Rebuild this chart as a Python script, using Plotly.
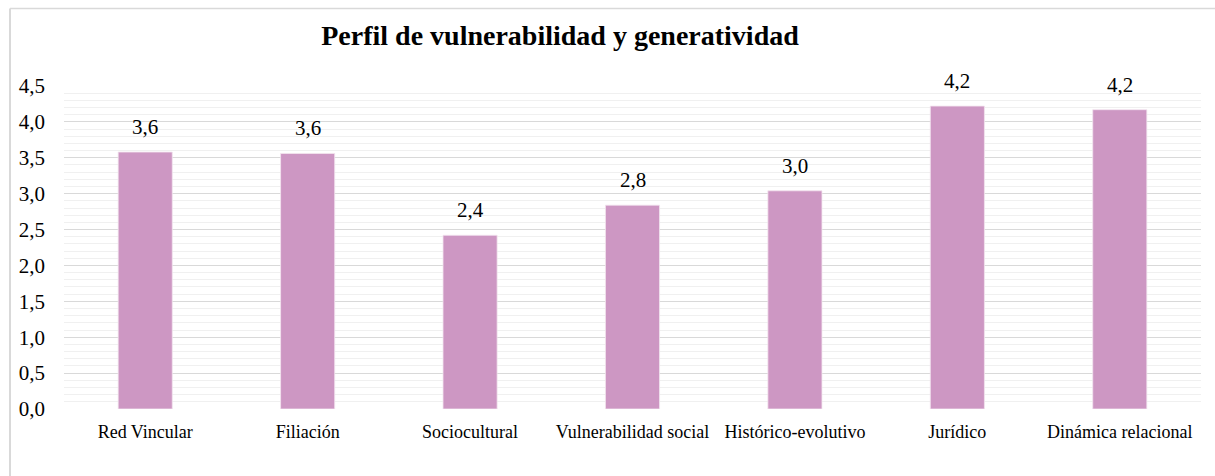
"""Perfil de vulnerabilidad y generatividad - single-series column chart."""

import plotly.graph_objects as go

categories = [
    "Red Vincular",
    "Filiación",
    "Sociocultural",
    "Vulnerabilidad social",
    "Histórico-evolutivo",
    "Jurídico",
    "Dinámica relacional",
]
values = [3.58, 3.56, 2.42, 2.84, 3.04, 4.22, 4.17]
y_ticks = [0.0, 0.5, 1.0, 1.5, 2.0, 2.5, 3.0, 3.5, 4.0, 4.5]

BAR = "#CD97C3"
GRID = "#D9D9D9"
MINOR = "#F0F0F0"
FONT = "Liberation Serif"

# figure is a bit larger than the window so its outer edges stay out of view,
# like the source chart whose right/bottom frame is cut off
W, H = 1240, 500

fig = go.Figure()
fig.add_trace(go.Bar(
    x=categories, y=values,
    marker=dict(color=BAR, line=dict(color="#F3E4EF", width=0.8)),
    showlegend=False,
))

# value labels above bars (Excel style, one decimal with comma)
for c, v in zip(categories, values):
    fig.add_annotation(
        x=c, y=v, text=f"{v:.1f}".replace(".", ","),
        showarrow=False, yanchor="bottom", yshift=11,
        font=dict(family=FONT, size=21, color="#000000"),
    )

# chart-area border: only the left and top edges are inside the window
fig.add_shape(type="line", xref="paper", yref="paper",
              x0=-0.0475, x1=-0.0475, y0=-0.3, y1=1.240,
              line=dict(color=GRID, width=2), layer="below")
fig.add_shape(type="line", xref="paper", yref="paper",
              x0=-0.0475, x1=1.05, y0=1.240, y1=1.240,
              line=dict(color=GRID, width=1.5), layer="below")

fig.update_layout(
    width=W, height=H,
    paper_bgcolor="white", plot_bgcolor="white",
    margin=dict(l=64, r=W - 1201, t=86, b=H - 409),
    separators=",.",
    bargap=0.667,
    font=dict(family=FONT, color="#000000"),
    title=dict(
        text="<b>Perfil de vulnerabilidad y generatividad</b>",
        font=dict(family=FONT, size=28, color="#000000"),
        x=560 / W, xanchor="center", y=1 - 35 / H, yanchor="middle",
    ),
)
fig.update_yaxes(
    range=[0, 4.5], tickvals=y_ticks, tickformat=".1f",
    showgrid=True, gridcolor=GRID, gridwidth=1.3,
    minor=dict(dtick=0.1, showgrid=True, gridcolor=MINOR, gridwidth=1),
    zeroline=False, showline=False,
    tickfont=dict(family=FONT, size=21, color="#000000"),
    ticklabelstandoff=18,
)
fig.update_xaxes(
    showgrid=False, showline=False, zeroline=False,
    tickfont=dict(family=FONT, size=18, color="#000000"),
    ticklabelstandoff=10,
)

fig.write_html(
    "out.html",
    config={"displayModeBar": False},
    post_script="document.body.style.margin='0';document.body.style.overflow='hidden';",
)
